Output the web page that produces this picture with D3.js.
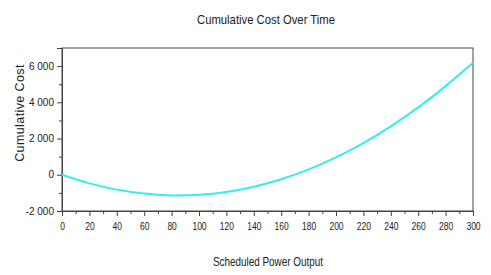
<!DOCTYPE html>
<html>
<head>
<meta charset="utf-8">
<script src="https://cdn.jsdelivr.net/npm/d3@7"></script>
<style>
  body { margin: 0; background: #fff; }
  svg text { fill: #222; }
</style>
</head>
<body>
<svg id="svg" width="491" height="275"></svg>
<script>
// values
const power = [0, 20, 40, 60, 80, 100, 120, 140, 160, 180, 200, 220, 240, 260, 280, 300];
const cost = [0, -475, -820, -1040, -1140, -1105, -945, -660, -245, 295, 960, 1750, 2675, 3720, 4895, 6180];
const xTicks = d3.range(0, 301, 20);
const yTicks = [-2000, 0, 2000, 4000, 6000];

const margin = {left: 62, right: 18, top: 48, bottom: 64};
const width = 491, height = 275;
const svg = d3.select("#svg");

const x = d3.scaleLinear().domain([0, 300]).range([margin.left, width - margin.right]);
const y = d3.scaleLinear().domain([-2000, 7000]).range([height - margin.bottom, margin.top]);

const fmt = d => d3.format(",")(d).replace(",", " ").replace("−", "-");
const font = "'Liberation Sans', Arial, sans-serif";

// frame
svg.append("rect")
    .attr("x", x(0)).attr("y", y(7000))
    .attr("width", x(300) - x(0)).attr("height", y(-2000) - y(7000))
    .attr("fill", "none").attr("stroke", "#444").attr("stroke-width", 1);

// x axis: minor then major
svg.append("g")
    .attr("transform", `translate(0,${y(-2000)})`)
    .call(d3.axisBottom(x).tickValues(d3.range(10, 300, 20)).tickSize(3).tickFormat(""))
    .call(g => g.select(".domain").remove());
svg.append("g")
    .attr("transform", `translate(0,${y(-2000)})`)
    .call(d3.axisBottom(x).tickValues(xTicks).tickSize(5).tickPadding(7))
    .call(g => g.select(".domain").attr("stroke", "#444"))
    .call(g => g.selectAll("text").attr("font-family", font).attr("font-size", 10)
        .attr("transform", "scale(0.85,1)"));

// y axis
svg.append("g")
    .attr("transform", `translate(${x(0)},0)`)
    .call(d3.axisLeft(y).tickValues(d3.range(-1000, 7001, 2000)).tickSize(3).tickFormat(""))
    .call(g => g.select(".domain").remove());
svg.append("g")
    .attr("transform", `translate(${x(0)},0)`)
    .call(d3.axisLeft(y).tickValues(yTicks).tickSize(5).tickPadding(3).tickFormat(fmt))
    .call(g => g.select(".domain").attr("stroke", "#444"))
    .call(g => g.selectAll("text").attr("font-family", font).attr("font-size", 10));

svg.selectAll(".tick line").attr("stroke", "#444");

// curve
const line = d3.line()
    .x((d, i) => x(power[i]))
    .y(d => y(d))
    .curve(d3.curveNatural);

svg.append("path")
    .datum(cost)
    .attr("d", line)
    .attr("fill", "none")
    .attr("stroke", "#33eeee")
    .attr("stroke-width", 2);

// titles
svg.append("text")
    .attr("x", 266).attr("y", 24)
    .attr("text-anchor", "middle")
    .attr("font-family", font).attr("font-size", 13)
    .attr("textLength", 138).attr("lengthAdjust", "spacingAndGlyphs")
    .text("Cumulative Cost Over Time");

svg.append("text")
    .attr("x", 268).attr("y", 266)
    .attr("text-anchor", "middle")
    .attr("font-family", font).attr("font-size", 12)
    .attr("textLength", 110).attr("lengthAdjust", "spacingAndGlyphs")
    .text("Scheduled Power Output");

svg.append("text")
    .attr("transform", "translate(24,113) rotate(-90)")
    .attr("text-anchor", "middle")
    .attr("font-family", font).attr("font-size", 12.5)
    .attr("letter-spacing", 0.4)
    .text("Cumulative Cost");
</script>
</body>
</html>
